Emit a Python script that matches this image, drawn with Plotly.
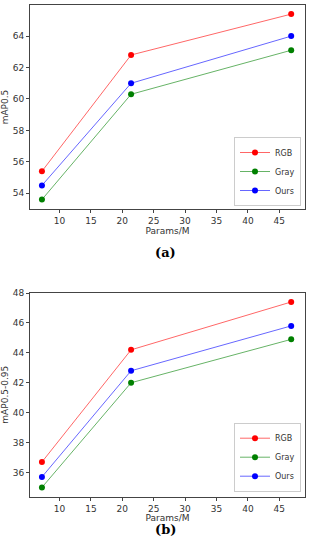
import plotly.graph_objects as go

params = [7.2, 21.4, 46.9]
series_names = ["RGB", "Gray", "Ours"]
map50 = {
    "RGB": [55.4, 62.8, 65.4],
    "Gray": [53.6, 60.3, 63.1],
    "Ours": [54.5, 61.0, 64.0],
}
map5095 = {
    "RGB": [36.7, 44.2, 47.4],
    "Gray": [35.0, 42.0, 44.9],
    "Ours": [35.7, 42.8, 45.8],
}
colors = {"RGB": (255, 0, 0), "Gray": (0, 128, 0), "Ours": (0, 0, 255)}

W, H = 312, 550
fig = go.Figure()

for name in series_names:
    r, g, b = colors[name]
    fig.add_trace(go.Scatter(
        x=params, y=map50[name], mode="lines+markers", name=name,
        line=dict(color=f"rgba({r},{g},{b},0.6)", width=1),
        marker=dict(color=f"rgb({r},{g},{b})", size=6),
        xaxis="x", yaxis="y", legend="legend"))
for name in series_names:
    r, g, b = colors[name]
    fig.add_trace(go.Scatter(
        x=params, y=map5095[name], mode="lines+markers", name=name,
        line=dict(color=f"rgba({r},{g},{b},0.6)", width=1),
        marker=dict(color=f"rgb({r},{g},{b})", size=6),
        xaxis="x2", yaxis="y2", legend="legend2"))

axis_common = dict(showline=True, linecolor="#444", linewidth=1, mirror=True,
                   ticks="outside", ticklen=3, tickcolor="#444", showgrid=False,
                   zeroline=False, automargin=False, tickfont=dict(size=9, color="#333"))
xdom = [30 / W, 305 / W]

fig.update_layout(
    width=W, height=H, margin=dict(l=0, r=0, t=0, b=0, autoexpand=False),
    paper_bgcolor="white", plot_bgcolor="white",
    font=dict(family="DejaVu Sans", size=9, color="#333"),
    xaxis=dict(domain=xdom, range=[5.3, 49.1], dtick=5, tick0=0, anchor="y",
               title=dict(text="Params/M", font=dict(size=9), standoff=2), **axis_common),
    yaxis=dict(domain=[1 - 209 / H, 1 - 5 / H], range=[53.0, 65.98], dtick=2, tick0=0, anchor="x",
               title=dict(text="mAP0.5", font=dict(size=9), standoff=6), **axis_common),
    xaxis2=dict(domain=xdom, range=[5.3, 49.1], dtick=5, tick0=0, anchor="y2",
                title=dict(text="Params/M", font=dict(size=9), standoff=2), **axis_common),
    yaxis2=dict(domain=[1 - 496.7 / H, 1 - 292.7 / H], range=[34.38, 48.02], dtick=2, tick0=0, anchor="x2",
                title=dict(text="mAP0.5-0.95", font=dict(size=9), standoff=6), **axis_common),
    legend=dict(x=301 / W, y=1 - 206 / H, xanchor="right", yanchor="bottom",
                bordercolor="#ccc", borderwidth=1, bgcolor="white",
                font=dict(size=8), tracegroupgap=0, itemwidth=30),
    legend2=dict(x=301 / W, y=1 - 491.7 / H, xanchor="right", yanchor="bottom",
                 bordercolor="#ccc", borderwidth=1, bgcolor="white",
                 font=dict(size=8), tracegroupgap=0, itemwidth=30),
    showlegend=True,
    annotations=[
        dict(text="<b>(a)</b>", x=165 / W, y=1 - 252 / H, xref="paper", yref="paper",
             showarrow=False, font=dict(family="DejaVu Serif", size=13, color="black")),
        dict(text="<b>(b)</b>", x=165 / W, y=1 - 539 / H, xref="paper", yref="paper",
             showarrow=False, font=dict(family="DejaVu Serif", size=13, color="black")),
    ],
)

fig.write_html("out.html", config={"responsive": False, "displayModeBar": False},
               post_script="document.body.style.margin='0';document.body.style.padding='0';"
                           "document.documentElement.style.overflow='hidden';")
